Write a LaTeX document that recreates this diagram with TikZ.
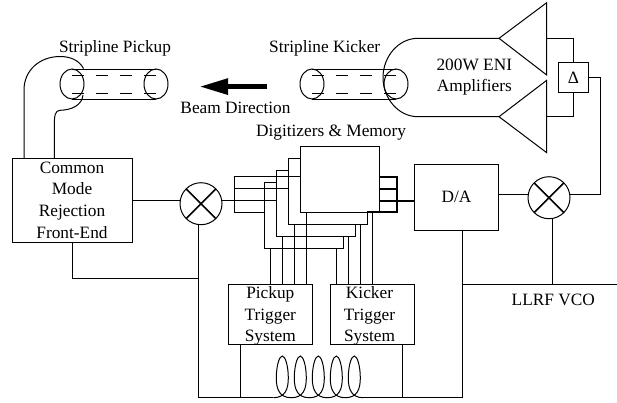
\documentclass[tikz,border=0pt]{standalone}
\usepackage{fontspec}
\setmainfont{Liberation Serif}
\usetikzlibrary{positioning, shapes.geometric, arrows.meta}
\tikzset{
  wire/.style={
    line width=1pt
  },
  bus/.style={
    line width=2pt
  },
  textlabel/.style={
    inner sep=0pt,
    align=center,
    font=\fontsize{17.3}{21.6}\selectfont
  },
  block/.style={
    rectangle, draw=black, fill=white, wire,
    inner sep=0pt, outer sep=0pt,
    align=center,
    font=\fontsize{17.3}{21.6}\selectfont
  },
  adc/.style={
    block, minimum width=79pt, minimum height=66pt
  },
  trigger/.style={
    block, minimum width=84pt, minimum height=60.4pt
  },
  mixer/.style={
    circle, draw=black, wire, minimum size=42pt, inner sep=0pt, outer sep=0pt,
    path picture={
      \draw[line width=1.5pt] (path picture bounding box.north west) -- (path picture bounding box.south east);
      \draw[line width=1.5pt] (path picture bounding box.north east) -- (path picture bounding box.south west);
    }
  },
  pipe/.style={
    ellipse, draw=black, wire, minimum width=24pt, minimum height=30pt, inner sep=0pt, outer sep=0pt
  },
  stripe/.style={
    wire, dash pattern=on 12pt off 12pt
  }
}

\begin{document}
\begin{tikzpicture}[x=1pt, y=-1pt]
  \useasboundingbox (0,0) rectangle (617,402);

  % stripline pickup
  \node[pipe] (pua) at (72,84) {};
  \node[pipe] (pub) at (156,84) {};
  \draw[wire] (pua.north) -- (pub.north);
  \draw[wire] (pua.south) -- (pub.south);
  \draw[stripe] ([yshift=9pt]pua.center) -- ([yshift=9pt]pub.center);
  \draw[stripe] ([yshift=-9pt]pua.center) -- ([yshift=-9pt]pub.center);
  \node[textlabel] (pulabel) at (115,48.3) {Stripline Pickup};

  % stripline kicker and amplifiers
  \node[pipe] (kia) at (312,84) {};
  \node[pipe] (kib) at (396,84) {};
  \draw[wire] (kia.north) -- (kib.north);
  \draw[wire] (kia.south) -- (kib.south);
  \draw[stripe] ([yshift=9pt]kia.center) -- ([yshift=9pt]kib.center);
  \draw[stripe] ([yshift=-9pt]kia.center) -- ([yshift=-9pt]kib.center);
  \node[textlabel] (kilabel) at (324.7,48.3) {Stripline Kicker};
  \node[textlabel] (amplabel) at (474.3,77.2) {200W ENI\\Amplifiers};

  \coordinate (ampa) at (499,38.3);
  \coordinate (ampb) at (499,116.7);
  \coordinate (outa) at (546.7,38.3);
  \coordinate (outb) at (546.7,116.7);
  \draw[wire] (ampa) -- (546.7,2.7) -- (546.7,75) -- cycle;
  \draw[wire] (ampb) -- (546.7,80.3) -- (546.7,152.7) -- cycle;
  \draw[wire] (ampa) -- (418,38.3) .. controls (398,38.3) and (383,57) .. (383,77.5)
    .. controls (383,98) and (398,116.7) .. (418,116.7) -- (ampb);

  \node[block, minimum width=30.4pt, minimum height=30pt] (delta) at (573.5,77.3) {Δ};
  \draw[wire] (outa) -| (delta.north);
  \draw[wire] (outb) -| (delta.south);

  % beam arrow
  \coordinate (beamtail) at (267,86.6);
  \coordinate (beamtip) at (199,86.6);
  \draw[line width=5.5pt, -{Triangle[length=29pt, width=15pt]}] (beamtail) -- (beamtip);
  \node[textlabel] (beamlabel) at (235.5,107.7) {Beam Direction};

  % front end
  \node[block, minimum width=120pt, minimum height=84pt] (cmfe) at (72,200) {Common\\Mode\\Rejection\\Front-End};
  \coordinate (cabo) at (83.5,68.5);
  \coordinate (cabi) at (83,95);
  \draw[wire] ([xshift=12pt]cmfe.north west) -- (24,90) .. controls (24,70) and (40,56.5) .. (60,56.5)
    .. controls (70,56.5) and (79,60) .. (cabo);
  \draw[wire] ([xshift=42.3pt]cmfe.north west) -- (54.3,127) .. controls (54.3,115) and (55,110.7) .. (60,110.3)
    .. controls (72,110) and (82,105) .. (cabi);

  % digitizers
  \node[adc] (digd) at (303.5,215) {};
  \node[adc] (digc) at (315.5,203) {};
  \node[adc] (digb) at (327.5,191) {};
  \node[adc] (diga) at (339.5,179.3) {};
  \node[textlabel] (diglabel) at (331,132.7) {Digitizers \& Memory};

  % mixers
  \node[mixer] (mixa) at (201,203.7) {};
  \node[mixer] (mixb) at (549,197.7) {};
  \node[block, minimum width=84.4pt, minimum height=66pt] (dac) at (456.5,197.3) {D/A};

  % rf path
  \coordinate (ifin) at (234,200.7);
  \coordinate (rfout) at (600.5,194.3);
  \draw[wire] (cmfe.east |- ifin) -- (mixa.west |- ifin);
  \draw[wire] (mixa.east |- ifin) -- (digc.west |- ifin);
  \draw[wire] (diga.west |- 234,176.5) -- (234,176.5) -- (234,212.3) -- (digd.west |- 234,212.3);
  \draw[wire] (234,188.7) -- (digb.west |- 234,188.7);
  \draw[wire] (dac.east |- rfout) -- (mixb.west |- rfout);
  \draw[wire] (mixb.east |- rfout) -- (rfout) |- (delta.east);

  % digitizer outputs
  \coordinate (busa) at (397,176.5);
  \coordinate (busd) at (397,212.3);
  \draw[bus] (diga.east |- busa) -- (busa) -- (busd) -- (digb.east |- busd);
  \draw[bus] (diga.east |- 397,188.7) -- (397,188.7);
  \draw[bus] (diga.east |- ifin) -- (dac.west |- ifin);

  % trigger systems
  \node[trigger] (trigp) at (270.3,314.5) {};
  \node[trigger] (trigk) at (372.3,314.5) {};
  \node[textlabel] (trigplabel) at (270.3,316) {Pickup\\Trigger\\System};
  \node[textlabel] (trigklabel) at (369.5,316) {Kicker\\Trigger\\System};

  \draw[wire] ([xshift=78pt]trigp.north west |- diga.south) -- ([xshift=78pt]trigp.north west);
  \draw[wire] ([xshift=66pt]trigp.north west |- digb.south) -- ([xshift=66pt]trigp.north west);
  \draw[wire] ([xshift=54pt]trigp.north west |- digc.south) -- ([xshift=54pt]trigp.north west);
  \draw[wire] ([xshift=42pt]trigp.north west |- digd.south) -- ([xshift=42pt]trigp.north west);
  \draw[wire] ([xshift=42pt]trigk.north west |- diga.south) -- ([xshift=42pt]trigk.north west);
  \draw[wire] ([xshift=30pt]trigk.north west |- digb.south) -- ([xshift=30pt]trigk.north west);
  \draw[wire] ([xshift=18pt]trigk.north west |- digc.south) -- ([xshift=18pt]trigk.north west);
  \draw[wire] ([xshift=6pt]trigk.north west |- digd.south) -- ([xshift=6pt]trigk.north west);

  % clock rail
  \coordinate (railw) at (198,397.7);
  \coordinate (raile) at (462.3,397.7);
  \coordinate (coilin) at (273.3,397.7);
  \coordinate (coilout) at (363.3,397.7);
  \coordinate (lofeed) at (552.3,284.7);
  \coordinate (loend) at (617,284.7);
  \draw[wire] (railw |- mixa.south) -- (railw) -- (coilin);
  \draw[wire] (coilout) -- (raile) -- (dac.south -| raile);
  \draw[wire] (cmfe.south) |- (railw |- 0,278);
  \draw[wire] (raile |- lofeed) -- (loend);
  \draw[wire] (lofeed) -- (lofeed |- mixb.south);
  \node[textlabel] (lolabel) at (553.3,300) {LLRF VCO};
  \draw[wire] ([xshift=12pt]trigp.south west) -- ([xshift=12pt]trigp.south west |- railw);
  \draw[wire] ([xshift=72pt]trigk.south west) -- ([xshift=72pt]trigk.south west |- railw);

  % delay coil
  \draw[wire] (coilin) .. controls (285.3,397.7) and (288.3,389) .. (288.3,378)
    .. controls (288.3,366) and (285.3,356) .. (282.3,356) .. controls (279.3,356) and (276.3,366) .. (276.3,378)
    .. controls (276.3,389) and (279.3,397.7) .. (291.3,397.7) .. controls (303.3,397.7) and (306.3,389) .. (306.3,378)
    .. controls (306.3,366) and (303.3,356) .. (300.3,356) .. controls (297.3,356) and (294.3,366) .. (294.3,378)
    .. controls (294.3,389) and (297.3,397.7) .. (309.3,397.7) .. controls (321.3,397.7) and (324.3,389) .. (324.3,378)
    .. controls (324.3,366) and (321.3,356) .. (318.3,356) .. controls (315.3,356) and (312.3,366) .. (312.3,378)
    .. controls (312.3,389) and (315.3,397.7) .. (327.3,397.7) .. controls (339.3,397.7) and (342.3,389) .. (342.3,378)
    .. controls (342.3,366) and (339.3,356) .. (336.3,356) .. controls (333.3,356) and (330.3,366) .. (330.3,378)
    .. controls (330.3,389) and (333.3,397.7) .. (345.3,397.7) .. controls (357.3,397.7) and (360.3,389) .. (360.3,378)
    .. controls (360.3,366) and (357.3,356) .. (354.3,356) .. controls (351.3,356) and (348.3,366) .. (348.3,378)
    .. controls (348.3,389) and (351.3,397.7) .. (coilout);
\end{tikzpicture}
\end{document}
